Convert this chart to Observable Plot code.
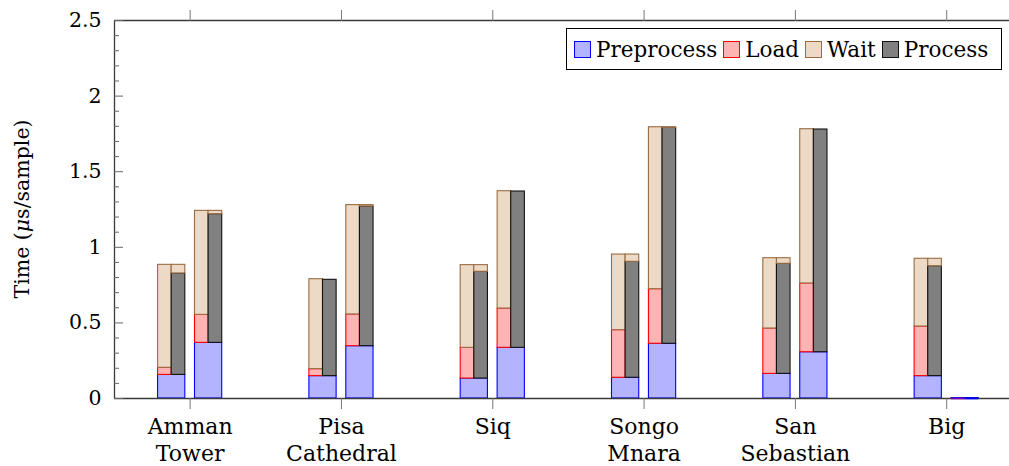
<!DOCTYPE html>
<html>
<head>
<meta charset="utf-8">
<script src="https://cdn.jsdelivr.net/npm/d3@7"></script>
<script src="https://cdn.jsdelivr.net/npm/@observablehq/plot@0.6"></script>
<style>
  html, body { margin: 0; padding: 0; background: #fff; }
  #wrap { position: relative; width: 1009px; height: 466px; font-family: "DejaVu Serif", serif; }
  #ylabel { position: absolute; left: 22px; top: 209px; transform: translate(-50%, -50%) rotate(-90deg); white-space: nowrap; font-size: 20.5px; color: #000; }
  #legend { position: absolute; left: 566px; top: 28px; width: 436px; height: 42px; border: 1.5px solid #000; background: #fff; display: flex; align-items: center; padding-left: 7px; box-sizing: border-box; font-size: 21.5px; }
  .item { display: flex; align-items: center; margin-right: 6px; }
  .sw { width: 15px; height: 15px; border: 1.3px solid; margin-right: 5px; }
</style>
</head>
<body>
<div id="wrap">
  <div id="ylabel">Time (<i>μ</i>s/sample)</div>
  <div id="legend"></div>
</div>
<script>
const sites = ["Amman\nTower", "Pisa\nCathedral", "Siq", "Songo\nMnara", "San\nSebastian", "Big"];
// first bar of each group
const preA  = [0.156, 0.148, 0.132, 0.137, 0.163, 0.148];
const loadA = [0.047, 0.046, 0.203, 0.315, 0.300, 0.328];
const waitA = [0.681, 0.595, 0.547, 0.500, 0.465, 0.448];
const procA = [0.671, 0.637, 0.706, 0.767, 0.728, 0.727];
// second bar of each group
const preB  = [0.368, 0.346, 0.335, 0.362, 0.306, 0.003];
const loadB = [0.185, 0.210, 0.260, 0.361, 0.455, 0.001];
const waitB = [0.688, 0.723, 0.776, 1.071, 1.020, 0.000];
const procB = [0.851, 0.924, 1.034, 1.428, 1.473, 0.000];

const seriesNames = ["Preprocess", "Load", "Wait", "Process"];
const fills   = ["#b3b3ff", "#ffb3b3", "#ecd9c6", "#808080"];
const strokes = ["#0000ff", "#ff0000", "#9a6c42", "#111111"];

const yTicks = [0, 0.5, 1, 1.5, 2, 2.5];
const yMinor = d3.range(1, 25).map(k => k / 10).filter(v => Math.abs(v * 2 - Math.round(v * 2)) > 1e-6);
const xTicks = sites.map((s, i) => i);

const OFF = 0.122, HALF = 0.09;
const rows = [];
sites.forEach((s, i) => {
  rows.push({i, off: -OFF, pre: preA[i], load: loadA[i], wait: waitA[i], proc: procA[i]});
  rows.push({i, off: OFF, pre: preB[i], load: loadB[i], wait: waitB[i], proc: procB[i]});
});
rows.forEach(d => { d.total = d.pre + d.load + d.wait; d.c = d.i + d.off; });

const L = d => d.c - HALF, M = d => d.c, R = d => d.c + HALF;
const tiny = rows.filter(d => d.pre < 0.01);

const chart = Plot.plot({
  width: 1009,
  height: 466,
  marginLeft: 114,
  marginRight: 0,
  marginTop: 20,
  marginBottom: 68,
  style: {fontFamily: "DejaVu Serif", fontSize: "20.5px", background: "transparent", color: "#000", overflow: "visible"},
  x: {type: "linear", domain: [-0.5, 5.415], axis: null},
  y: {domain: [0, 2.5], axis: null},
  marks: [
    // bars
    Plot.rect(rows, {x1: L, x2: R, y1: 0, y2: d => d.pre, fill: fills[0], stroke: strokes[0], strokeWidth: 1.1}),
    Plot.rect(rows.filter(d => d.load > 0.002), {x1: L, x2: M, y1: d => d.pre, y2: d => d.pre + d.load, fill: fills[1], stroke: strokes[1], strokeWidth: 1.1}),
    Plot.rect(rows.filter(d => d.wait > 0), {x1: L, x2: M, y1: d => d.pre + d.load, y2: d => d.total, fill: fills[2], stroke: strokes[2], strokeWidth: 1.1}),
    Plot.rect(rows.filter(d => d.proc > 0), {x1: M, x2: R, y1: d => d.pre, y2: d => d.pre + d.proc, fill: fills[3], stroke: strokes[3], strokeWidth: 1.1}),
    Plot.rect(rows.filter(d => d.total - d.pre - d.proc > 0.004), {x1: M, x2: R, y1: d => d.pre + d.proc, y2: d => d.total, fill: fills[2], stroke: strokes[2], strokeWidth: 1.1}),
    // frame lines
    Plot.ruleY([0, 2.5], {stroke: "#3a3a3a", strokeWidth: 1.3}),
    Plot.ruleX([-0.5], {stroke: "#3a3a3a", strokeWidth: 1.3}),
    // near-zero bar drawn as thin lines on the axis
    Plot.ruleY(tiny, {x1: M, x2: R, y: 0, stroke: "#0000ff", strokeWidth: 1.6}),
    Plot.ruleY(tiny, {x1: L, x2: M, y: 0, stroke: "#7a00c0", strokeWidth: 1.6}),
    // y axis labels and inner ticks
    Plot.axisY({ticks: yTicks, tickSize: 0, tickPadding: 13, tickFormat: d => String(d), label: null, fill: "#000"}),
    Plot.axisY({ticks: yTicks, tickSize: 9, dx: 9, tickFormat: () => "", label: null, stroke: "#666"}),
    Plot.axisY({ticks: yMinor, tickSize: 5, dx: 5, tickFormat: () => "", label: null, stroke: "#666"}),
    // x axes
    Plot.axisX({anchor: "bottom", ticks: xTicks, tickSize: 11, tickPadding: 5, tickFormat: i => sites[i], label: null, fontSize: 22, lineHeight: 1.24, stroke: "#777", fill: "#000"}),
    Plot.axisX({anchor: "top", ticks: xTicks, tickSize: 11, tickFormat: () => "", label: null, stroke: "#777"})
  ]
});
document.getElementById("wrap").insertBefore(chart, document.getElementById("legend"));

const legend = document.getElementById("legend");
seriesNames.forEach((name, k) => {
  const it = document.createElement("div");
  it.className = "item";
  const sw = document.createElement("div");
  sw.className = "sw";
  sw.style.background = fills[k];
  sw.style.borderColor = strokes[k];
  const tx = document.createElement("span");
  tx.textContent = name;
  it.appendChild(sw); it.appendChild(tx);
  legend.appendChild(it);
});
</script>
</body>
</html>
